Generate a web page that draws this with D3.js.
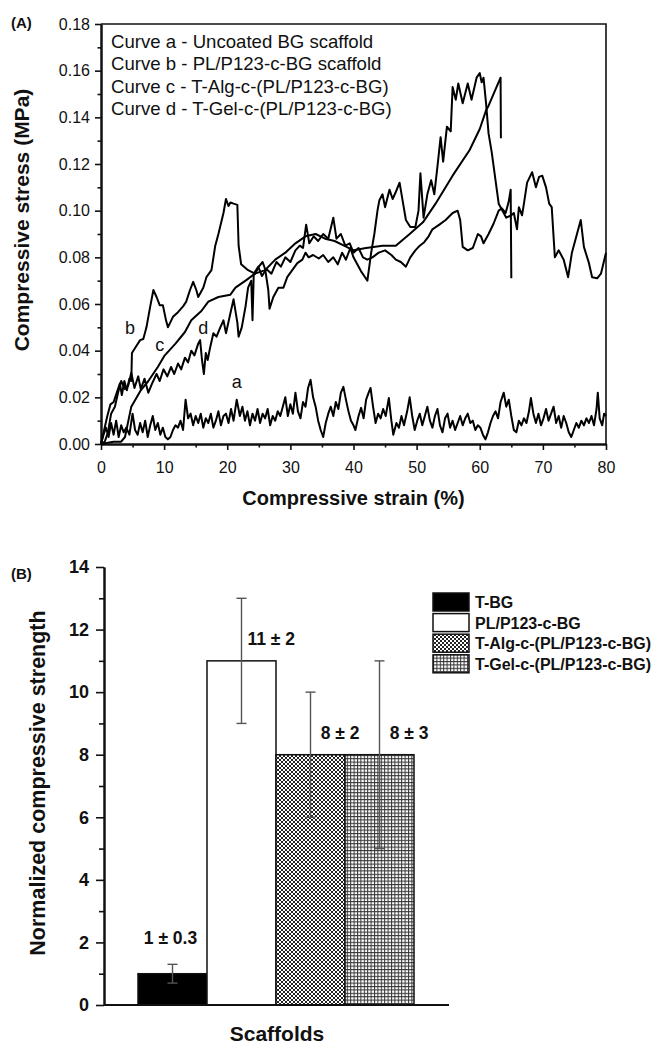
<!DOCTYPE html>
<html>
<head>
<meta charset="utf-8">
<script src="https://cdn.jsdelivr.net/npm/d3@7"></script>
<style>
  body { margin: 0; background: #fff; }
  text { font-family: "Liberation Sans", Arial, sans-serif; fill: #111; }
  .axis path, .axis line { stroke: #111; }
</style>
</head>
<body>
<svg id="chart" width="657" height="1048"></svg>
<script>
// ---------- panel A data: [strain %, stress MPa] ----------
var curveA = [[0,0],[0.4,0.004],[0.8,0.007],[1.2,0.003],[1.6,0.009],[2,0.004],[2.4,0.010],[2.8,0.003],[3.2,0.008],[3.6,0.005],[4,0.007],[4.5,0.004],[5,0.013],[5.4,0.006],[5.8,0.004],[6.2,0.009],[6.6,0.005],[7,0.010],[7.4,0.003],[7.8,0.008],[8.2,0.012],[8.6,0.006],[9,0.009],[9.4,0.004],[9.8,0.007],[10.2,0.003],[10.6,0.002],[11,0.003],[11.4,0.006],[11.8,0.008],[12.2,0.007],[12.6,0.010],[13,0.006],[13.4,0.019],[13.8,0.011],[14.2,0.013],[14.6,0.008],[15,0.012],[15.4,0.009],[15.8,0.013],[16.2,0.007],[16.6,0.011],[17,0.009],[17.4,0.013],[17.8,0.007],[18.2,0.010],[18.6,0.014],[19,0.008],[19.4,0.012],[19.8,0.013],[20.2,0.009],[20.6,0.015],[21,0.010],[21.5,0.019],[22,0.012],[22.4,0.016],[22.8,0.010],[23.2,0.014],[23.6,0.008],[24,0.013],[24.4,0.010],[24.8,0.015],[25.2,0.009],[25.6,0.013],[26,0.011],[26.4,0.015],[26.8,0.008],[27.2,0.012],[27.6,0.010],[28,0.014],[28.4,0.012],[28.8,0.016],[29.2,0.020],[29.6,0.012],[30,0.017],[30.4,0.013],[30.8,0.022],[31.2,0.014],[31.6,0.011],[32,0.018],[32.4,0.016],[32.8,0.024],[33.2,0.0275],[33.6,0.020],[34,0.016],[34.4,0.010],[34.8,0.006],[35.2,0.003],[35.6,0.009],[36,0.013],[36.4,0.016],[36.8,0.012],[37.2,0.018],[37.6,0.015],[38,0.022],[38.4,0.0245],[38.8,0.019],[39.2,0.014],[39.6,0.010],[40,0.008],[40.3,0.006],[40.8,0.012],[41.2,0.0155],[41.6,0.011],[42,0.019],[42.4,0.022],[42.7,0.024],[43.1,0.016],[43.5,0.009],[43.9,0.013],[44.3,0.011],[44.7,0.015],[45.1,0.012],[45.6,0.0197],[46,0.010],[46.3,0.004],[46.8,0.009],[47.2,0.007],[47.6,0.012],[48,0.008],[48.5,0.014],[48.9,0.020],[49.3,0.012],[49.7,0.006],[50.1,0.010],[50.5,0.013],[50.9,0.008],[51.3,0.012],[51.7,0.016],[52.1,0.010],[52.5,0.007],[52.9,0.012],[53.3,0.015],[53.7,0.008],[54.1,0.005],[54.5,0.011],[54.9,0.013],[55.3,0.007],[55.7,0.010],[56.1,0.006],[56.5,0.009],[56.9,0.012],[57.3,0.008],[57.7,0.011],[58.1,0.013],[58.5,0.009],[58.9,0.010],[59.3,0.006],[59.7,0.008],[60.1,0.007],[60.5,0.004],[60.9,0.002],[61.3,0.005],[61.7,0.009],[62.1,0.012],[62.5,0.014],[62.9,0.011],[63.3,0.018],[63.8,0.022],[64.2,0.016],[64.6,0.019],[65,0.012],[65.4,0.006],[65.8,0.005],[66.2,0.010],[66.6,0.008],[67,0.011],[67.4,0.009],[67.8,0.014],[68.1,0.0197],[68.5,0.013],[68.9,0.009],[69.3,0.013],[69.7,0.008],[70.1,0.011],[70.5,0.015],[70.9,0.010],[71.3,0.013],[71.7,0.016],[72.1,0.009],[72.5,0.012],[72.9,0.007],[73.3,0.012],[73.7,0.009],[74.1,0.005],[74.5,0.003],[74.9,0.006],[75.3,0.009],[75.7,0.007],[76.1,0.010],[76.5,0.008],[76.9,0.011],[77.3,0.009],[77.7,0.012],[78.1,0.008],[78.5,0.015],[78.7,0.022],[79,0.011],[79.4,0.008],[79.7,0.013],[80,0.012]];

var curveB = [[0,0],[0.5,0.006],[1,0.012],[1.5,0.017],[2,0.018],[2.5,0.022],[3,0.026],[3.3,0.021],[3.7,0.027],[4.1,0.023],[4.5,0.028],[4.8,0.027],[4.9,0.039],[5.6,0.042],[6.2,0.0445],[6.7,0.045],[7.2,0.050],[7.8,0.059],[8.3,0.066],[8.8,0.063],[9.3,0.0595],[9.8,0.0595],[10.3,0.053],[10.6,0.050],[11.4,0.0545],[12.2,0.0565],[13,0.059],[13.5,0.061],[14.1,0.066],[14.6,0.0695],[15.1,0.066],[15.4,0.063],[16.2,0.067],[16.7,0.0715],[17.5,0.0745],[18.1,0.085],[18.6,0.090],[19.4,0.099],[19.8,0.105],[20.2,0.102],[20.5,0.1035],[21,0.103],[21.6,0.1025],[21.8,0.085],[22.2,0.077],[23.3,0.0745],[24.4,0.073],[25,0.076],[25.6,0.078],[26,0.075],[26.5,0.066],[26.7,0.058],[27.3,0.063],[28.1,0.067],[28.9,0.067],[29.5,0.0715],[30.3,0.0745],[31.1,0.0775],[31.9,0.079],[32.4,0.082],[32.9,0.080],[33.6,0.081],[34.5,0.0795],[35.2,0.081],[36,0.078],[36.8,0.080],[37.5,0.077],[38.2,0.082],[38.8,0.079],[39.5,0.084],[40,0.080],[40.6,0.077],[41.2,0.074],[41.7,0.072],[42.2,0.070],[42.8,0.082],[43.3,0.090],[43.8,0.100],[44.1,0.1045],[44.6,0.107],[45,0.1015],[45.7,0.109],[46.2,0.105],[46.7,0.108],[47.3,0.112],[47.8,0.104],[48.3,0.096],[49,0.093],[49.8,0.093],[50.3,0.100],[50.6,0.116],[51.1,0.097],[51.7,0.107],[52.3,0.113],[52.8,0.107],[53.3,0.119],[53.8,0.1315],[54.2,0.121],[54.8,0.136],[55.4,0.134],[55.7,0.153],[56.2,0.1475],[56.6,0.1545],[57.3,0.146],[58.1,0.1545],[58.7,0.1475],[59.5,0.157],[60,0.159],[60.3,0.155],[60.6,0.157],[61,0.146],[61.4,0.133],[61.9,0.125],[62.5,0.113],[63,0.103],[63.6,0.100],[64.2,0.097],[65,0.098],[65.4,0.099],[65.9,0.092],[66.2,0.1015],[66.7,0.098],[67,0.103],[67.5,0.112],[68.3,0.1165],[68.9,0.110],[69.4,0.1145],[69.9,0.115],[70.5,0.110],[71,0.103],[71.4,0.1015],[71.9,0.080],[72.5,0.083],[73.3,0.079],[74,0.0715],[74.6,0.082],[75.4,0.090],[76,0.096],[76.5,0.0845],[77.3,0.0775],[77.8,0.0715],[78.6,0.071],[79.2,0.073],[80,0.082]];

var curveC = [[0,0],[2,0.001],[3.2,0.001],[3.8,0.003],[4.8,0.016],[6.3,0.023],[7.5,0.027],[9,0.033],[10.1,0.038],[11.8,0.043],[13.3,0.048],[14.3,0.053],[15.9,0.057],[17,0.061],[18.6,0.063],[20.5,0.064],[21.3,0.067],[22.9,0.070],[24.4,0.073],[26,0.0745],[27.6,0.079],[29.2,0.082],[30.8,0.086],[32.4,0.089],[34,0.090],[35.5,0.088],[37,0.087],[38.5,0.085],[40,0.083],[42,0.084],[44.6,0.085],[46.7,0.085],[48.9,0.090],[51,0.095],[53,0.103],[55.7,0.115],[58.4,0.126],[60,0.135],[61,0.143],[61.4,0.145],[62.5,0.152],[63.3,0.157],[63.35,0.131]];

var curveD = [[0,0],[0.6,0.001],[1.1,0.005],[1.6,0.013],[2.2,0.016],[2.7,0.022],[3.2,0.027],[3.8,0.0235],[4.3,0.025],[4.8,0.0305],[5.3,0.024],[5.9,0.029],[6.3,0.0235],[6.9,0.028],[7.5,0.022],[8.1,0.026],[8.8,0.030],[9.3,0.027],[9.9,0.032],[10.5,0.029],[11.1,0.033],[11.6,0.030],[12.2,0.0345],[12.7,0.032],[13.3,0.037],[13.8,0.035],[14.3,0.040],[14.8,0.038],[15.4,0.043],[15.7,0.0445],[16,0.036],[16.3,0.030],[16.6,0.039],[16.9,0.036],[17.3,0.0415],[17.8,0.0475],[18.3,0.046],[18.9,0.050],[19.4,0.053],[19.8,0.0475],[20.5,0.056],[21,0.062],[21.6,0.052],[21.8,0.046],[22.3,0.050],[22.9,0.059],[23.3,0.067],[23.8,0.070],[24,0.053],[24.2,0.073],[24.9,0.076],[25.5,0.072],[26.2,0.075],[27,0.073],[27.8,0.078],[28.5,0.076],[29.2,0.080],[30,0.078],[30.8,0.083],[31.5,0.085],[32,0.084],[32.5,0.094],[33,0.086],[33.7,0.089],[34.4,0.087],[35.2,0.090],[36,0.088],[36.8,0.097],[37.3,0.088],[38,0.090],[38.7,0.085],[39.4,0.086],[40,0.082],[40.8,0.084],[41.5,0.080],[42.2,0.079],[43,0.080],[44,0.082],[45,0.083],[46,0.081],[46.7,0.079],[47.5,0.078],[48.3,0.076],[49,0.080],[49.8,0.083],[50.5,0.085],[51.2,0.0865],[51.9,0.089],[52.5,0.092],[53.6,0.094],[54.6,0.096],[55.7,0.099],[56.5,0.100],[56.9,0.096],[57.3,0.0845],[58.1,0.083],[58.9,0.084],[59.7,0.090],[60.2,0.089],[60.6,0.086],[61.4,0.090],[62.2,0.0945],[63,0.100],[63.5,0.101],[64.1,0.099],[64.6,0.104],[64.9,0.109],[65,0.071]];

var legendA = ["Curve a - Uncoated BG scaffold", "Curve b - PL/P123-c-BG scaffold",
               "Curve c - T-Alg-c-(PL/P123-c-BG)", "Curve d - T-Gel-c-(PL/P123-c-BG)"];
// curve letters and where they sit (strain, stress)
var curveTags = [["a", 21.5, 0.024], ["b", 4.6, 0.047], ["c", 9.3, 0.040], ["d", 16.2, 0.047]];
var strainTicks = [0,10,20,30,40,50,60,70,80];
var strainMinor = [5,15,25,35,45,55,65,75];
var stressTicks = [0,0.02,0.04,0.06,0.08,0.10,0.12,0.14,0.16,0.18];
var stressMinor = [0.01,0.03,0.05,0.07,0.09,0.11,0.13,0.15,0.17];

// ---------- panel B data ----------
var scaffolds = ["T-BG", "PL/P123-c-BG", "T-Alg-c-(PL/P123-c-BG)", "T-Gel-c-(PL/P123-c-BG)"];
var strength = [1, 11, 8, 8];
var strengthErr = [0.3, 2, 2, 3];
var strengthLabels = ["1 \u00b1 0.3", "11 \u00b1 2", "8 \u00b1 2", "8 \u00b1 3"];
var strengthTicks = [0,2,4,6,8,10,12,14];
var strengthMinor = [1,3,5,7,9,11,13];

var svg = d3.select("#chart");

// patterns for the hatched bars
var defs = svg.append("defs");
var p1 = defs.append("pattern").attr("id", "hatchAlg")
  .attr("patternUnits", "userSpaceOnUse").attr("width", 4).attr("height", 4);
p1.append("rect").attr("width", 4).attr("height", 4).attr("fill", "#fff");
p1.append("path").attr("d", "M0,0L4,4M4,0L0,4").attr("stroke", "#222").attr("stroke-width", 1);
var p2 = defs.append("pattern").attr("id", "hatchGel")
  .attr("patternUnits", "userSpaceOnUse").attr("width", 3.4).attr("height", 3.4);
p2.append("rect").attr("width", 3.4).attr("height", 3.4).attr("fill", "#fff");
p2.append("path").attr("d", "M0,0.5H3.4M0.5,0V3.4").attr("stroke", "#333").attr("stroke-width", 1);
var fills = ["#000", "#fff", "url(#hatchAlg)", "url(#hatchGel)"];

// ================= panel A =================
var xA = d3.scaleLinear().domain([0, 80]).range([101, 606]);
var yA = d3.scaleLinear().domain([0, 0.18]).range([444, 24]);

var gA = svg.append("g");

// top / right frame
gA.append("path")
  .attr("d", "M" + xA(0) + "," + yA(0.18) + "H" + xA(80) + "V" + yA(0))
  .attr("fill", "none").attr("stroke", "#111").attr("stroke-width", 1.6);

gA.append("g").attr("class", "axis").attr("transform", "translate(0," + yA(0) + ")")
  .call(d3.axisBottom(xA).tickValues(strainTicks).tickSize(6).tickSizeOuter(0).tickPadding(12).tickFormat(d3.format("d")));
gA.append("g").attr("class", "axis").attr("transform", "translate(0," + yA(0) + ")")
  .call(d3.axisBottom(xA).tickValues(strainMinor).tickSize(3.5).tickSizeOuter(0).tickFormat(""));
gA.append("g").attr("class", "axis").attr("transform", "translate(" + xA(0) + ",0)")
  .call(d3.axisLeft(yA).tickValues(stressTicks).tickSize(6).tickSizeOuter(0).tickPadding(5).tickFormat(d3.format(".2f")));
gA.append("g").attr("class", "axis").attr("transform", "translate(" + xA(0) + ",0)")
  .call(d3.axisLeft(yA).tickValues(stressMinor).tickSize(3.5).tickSizeOuter(0).tickFormat(""));
gA.selectAll(".axis path").attr("stroke-width", 2);
gA.selectAll(".axis line").attr("stroke-width", 1.6);
gA.selectAll(".axis text").attr("font-size", 16).attr("font-family", "Liberation Sans, Arial").attr("fill", "#111");

var lineA = d3.line().x(function(d) { return xA(d[0]); }).y(function(d) { return yA(d[1]); });
[curveA, curveB, curveC, curveD].forEach(function(c) {
  gA.append("path").datum(c).attr("d", lineA)
    .attr("fill", "none").attr("stroke", "#000").attr("stroke-width", 2)
    .attr("stroke-linejoin", "round");
});

curveTags.forEach(function(t) {
  gA.append("text").attr("x", xA(t[1])).attr("y", yA(t[2]))
    .attr("text-anchor", "middle").attr("font-size", 18).text(t[0]);
});

legendA.forEach(function(s, i) {
  gA.append("text").attr("x", 111).attr("y", 48 + i * 22.3)
    .attr("font-size", 18.6).text(s);
});

gA.append("text").attr("x", 11).attr("y", 28).attr("font-size", 15).attr("font-weight", "bold").text("(A)");
gA.append("text").attr("x", (xA(0) + xA(80)) / 2).attr("y", 505)
  .attr("text-anchor", "middle").attr("font-size", 20).attr("font-weight", "bold")
  .text("Compressive strain (%)");
gA.append("text").attr("transform", "translate(29,220) rotate(-90)")
  .attr("text-anchor", "middle").attr("font-size", 21).attr("font-weight", "bold")
  .text("Compressive stress (MPa)");

// ================= panel B =================
var xB = d3.scaleBand().domain(scaffolds).range([138, 414]).padding(0);
var yB = d3.scaleLinear().domain([0, 14]).range([1005, 567]);
var gB = svg.append("g");

gB.selectAll(".bar").data(scaffolds).enter().append("rect")
  .attr("class", "bar")
  .attr("x", function(d) { return xB(d); })
  .attr("y", function(d, i) { return yB(strength[i]); })
  .attr("width", xB.bandwidth())
  .attr("height", function(d, i) { return yB(0) - yB(strength[i]); })
  .attr("fill", function(d, i) { return fills[i]; })
  .attr("stroke", "#111").attr("stroke-width", 1.5);

// error bars
var cap = 5;
scaffolds.forEach(function(s, i) {
  var cx = xB(s) + xB.bandwidth() / 2;
  var lo = yB(strength[i] - strengthErr[i]), hi = yB(strength[i] + strengthErr[i]);
  var eg = gB.append("g").attr("stroke", "#555").attr("stroke-width", 1.4);
  eg.append("line").attr("x1", cx).attr("x2", cx).attr("y1", lo).attr("y2", hi);
  eg.append("line").attr("x1", cx - cap).attr("x2", cx + cap).attr("y1", hi).attr("y2", hi);
  eg.append("line").attr("x1", cx - cap).attr("x2", cx + cap).attr("y1", lo).attr("y2", lo);
});

// value labels
scaffolds.forEach(function(s, i) {
  var cx = xB(s) + xB.bandwidth() / 2;
  var first = i === 0;
  gB.append("text")
    .attr("x", first ? cx - 2 : cx + 0.43 * xB.bandwidth())
    .attr("y", first ? yB(strength[i] + strengthErr[i] + 0.65) : yB(strength[i] + 0.5))
    .attr("text-anchor", "middle").attr("font-size", 17.5).attr("font-weight", "bold")
    .text(strengthLabels[i]);
});

// axes
gB.append("line").attr("x1", 104).attr("x2", 449).attr("y1", yB(0)).attr("y2", yB(0))
  .attr("stroke", "#111").attr("stroke-width", 2);
gB.append("g").attr("class", "axis").attr("transform", "translate(104,0)")
  .call(d3.axisLeft(yB).tickValues(strengthTicks).tickSize(8).tickSizeOuter(0).tickPadding(7).tickFormat(d3.format("d")));
gB.append("g").attr("class", "axis").attr("transform", "translate(104,0)")
  .call(d3.axisLeft(yB).tickValues(strengthMinor).tickSize(5).tickSizeOuter(0).tickFormat(""));
gB.selectAll(".axis path").attr("stroke-width", 2);
gB.selectAll(".axis line").attr("stroke-width", 1.6);
gB.selectAll(".axis text").attr("font-size", 18).attr("font-weight", "bold")
  .attr("font-family", "Liberation Sans, Arial").attr("fill", "#111");

gB.append("text").attr("x", 11).attr("y", 579).attr("font-size", 15).attr("font-weight", "bold").text("(B)");
gB.append("text").attr("transform", "translate(45,783) rotate(-90)")
  .attr("text-anchor", "middle").attr("font-size", 21.5).attr("font-weight", "bold")
  .text("Normalized compressive strength");
gB.append("text").attr("x", 277).attr("y", 1041)
  .attr("text-anchor", "middle").attr("font-size", 21).attr("font-weight", "bold")
  .text("Scaffolds");

// legend
var legB = gB.append("g").attr("transform", "translate(433,593)");
scaffolds.forEach(function(s, i) {
  legB.append("rect").attr("x", 0).attr("y", i * 20.6).attr("width", 36).attr("height", 18)
    .attr("fill", fills[i]).attr("stroke", "#111").attr("stroke-width", 1.5);
  legB.append("text").attr("x", 42).attr("y", i * 20.6 + 15)
    .attr("font-size", 16).attr("font-weight", "bold").text(s);
});
</script>
</body>
</html>
